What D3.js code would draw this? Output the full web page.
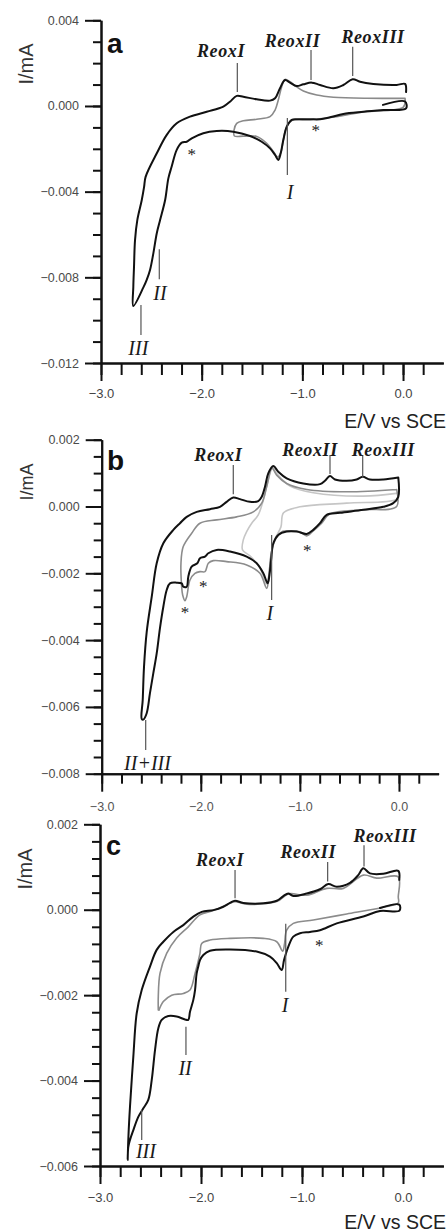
<!DOCTYPE html>
<html>
<head>
<meta charset="utf-8">
<title>CV a / b / c</title>
<script src="https://d3js.org/d3.v7.min.js"></script>
<style>
  body { margin: 0; background: #fff; }
  svg { display: block; }
</style>
</head>
<body>
<script>
// ---- data (E in V vs SCE, I in mA) ----
// panel a
var aBlackE = [-0.199,0.020,0.030,-0.196,-0.394,-0.593,-0.725,-0.824,-0.924,-1.056,
  -1.105,-1.155,-1.189,-1.215,-1.239,-1.271,-1.321,-1.404,-1.520,-1.686,
  -1.851,-1.984,-2.099,-2.149,-2.198,-2.248,-2.298,-2.331,-2.363,-2.413,
  -2.446,-2.480,-2.513,-2.546,-2.579,-2.679,-2.679,-2.672,-2.662,-2.639,
  -2.595,-2.572,-2.557,-2.446,-2.347,-2.248,-2.116,-1.950,-1.785,-1.719,
  -1.652,-1.586,-1.453,-1.321,-1.271,-1.222,-1.172,-1.123,-1.056,-0.990,
  -0.907,-0.824,-0.692,-0.593,-0.500,-0.427,-0.295,-0.063,0.020,0.030];
var aBlackI = [0.00005,0.00021,-0.00011,-0.00019,-0.00027,-0.00037,-0.00053,-0.00062,-0.00062,-0.00062,
  -0.00065,-0.00097,-0.00159,-0.00221,-0.00252,-0.00229,-0.00198,-0.00167,-0.00140,-0.00120,
  -0.00117,-0.00127,-0.00151,-0.00167,-0.00171,-0.00205,-0.00283,-0.00338,-0.00439,-0.00532,
  -0.00594,-0.00688,-0.00766,-0.00812,-0.00847,-0.00934,-0.00844,-0.00750,-0.00626,-0.00532,
  -0.00439,-0.00378,-0.00331,-0.00221,-0.00135,-0.00081,-0.00050,-0.00027,-0.00003,0.00020,
  0.00047,0.00043,0.00031,0.00025,0.00036,0.00083,0.00121,0.00109,0.00093,0.00101,
  0.00109,0.00098,0.00083,0.00098,0.00125,0.00113,0.00103,0.00098,0.00103,0.00065];
var aGrayE = [0.020,-0.360,-0.692,-0.857,-0.990,-1.056,-1.123,-1.172,-1.205,-1.239,
  -1.271,-1.321,-1.453,-1.586,-1.652,-1.678,-1.675,-1.586,-1.453,-1.354,
  -1.288,-1.244,-1.215,-1.189,-1.155,-1.105,-0.924,-0.725,-0.394,0.003,0.020];
var aGrayI = [0.00036,0.00036,0.00041,0.00051,0.00070,0.00089,0.00113,0.00124,0.00090,0.00028,
  -0.00019,-0.00050,-0.00062,-0.00069,-0.00081,-0.00112,-0.00140,-0.00141,-0.00142,-0.00174,
  -0.00213,-0.00238,-0.00219,-0.00159,-0.00097,-0.00068,-0.00064,-0.00054,-0.00028,-0.00005,0.00036];

// panel b
var bBlackE = [-0.007,-0.007,-0.058,-0.158,-0.360,-0.595,-0.730,-0.797,-0.865,-0.931,
  -1.032,-1.133,-1.218,-1.268,-1.290,-1.307,-1.325,-1.369,-1.436,-1.537,
  -1.705,-1.840,-1.924,-1.958,-2.008,-2.035,-2.092,-2.126,-2.142,-2.177,
  -2.193,-2.243,-2.311,-2.344,-2.378,-2.412,-2.445,-2.479,-2.513,-2.546,
  -2.580,-2.596,-2.586,-2.573,-2.546,-2.495,-2.445,-2.378,-2.277,-2.210,
  -2.142,-2.041,-1.907,-1.806,-1.739,-1.672,-1.604,-1.504,-1.420,-1.385,
  -1.352,-1.319,-1.268,-1.218,-1.133,-0.966,-0.797,-0.747,-0.696,-0.646,
  -0.528,-0.427,-0.366,-0.293,-0.158,-0.007];
var bBlackI = [0.00087,0.00029,0.00010,-0.00001,-0.00010,-0.00019,-0.00025,-0.00050,-0.00070,-0.00082,
  -0.00075,-0.00075,-0.00085,-0.00110,-0.00160,-0.00205,-0.00230,-0.00200,-0.00170,-0.00150,
  -0.00135,-0.00130,-0.00140,-0.00150,-0.00155,-0.00170,-0.00180,-0.00210,-0.00240,-0.00240,
  -0.00230,-0.00228,-0.00230,-0.00250,-0.00300,-0.00364,-0.00440,-0.00499,-0.00559,-0.00619,
  -0.00638,-0.00636,-0.00579,-0.00480,-0.00376,-0.00270,-0.00170,-0.00110,-0.00070,-0.00050,
  -0.00031,-0.00016,-0.00008,-0.00001,0.00014,0.00027,0.00022,0.00014,0.00016,0.00029,
  0.00059,0.00099,0.00121,0.00104,0.00084,0.00069,0.00067,0.00077,0.00091,0.00081,
  0.00077,0.00081,0.00089,0.00081,0.00081,0.00087];
var bGrayE = [-0.023,-0.528,-0.931,-1.133,-1.234,-1.282,-1.335,-1.385,-1.470,-1.638,
  -1.840,-2.008,-2.092,-2.177,-2.200,-2.193,-2.183,-2.159,-2.142,-2.109,
  -2.059,-2.008,-1.958,-1.924,-1.874,-1.739,-1.537,-1.403,-1.335,-1.312,
  -1.297,-1.271,-1.231,-1.184,-1.100,-0.999,-0.931,-0.865,-0.780,-0.696,
  -0.360,-0.023,-0.023];
var bGrayI = [0.00051,0.00044,0.00051,0.00069,0.00094,0.00115,0.00059,0.00010,-0.00016,-0.00031,
  -0.00040,-0.00050,-0.00080,-0.00120,-0.00170,-0.00240,-0.00265,-0.00282,-0.00270,-0.00220,
  -0.00200,-0.00195,-0.00195,-0.00170,-0.00162,-0.00165,-0.00175,-0.00200,-0.00245,-0.00205,
  -0.00160,-0.00115,-0.00091,-0.00076,-0.00073,-0.00076,-0.00088,-0.00073,-0.00050,-0.00022,
  -0.00010,0.00000,0.00051];
var bLightE = [-0.007,-0.360,-0.865,-1.100,-1.234,-1.274,-1.319,-1.369,-1.420,-1.486,
  -1.537,-1.571,-1.579,-1.504,-1.403,-1.337,-1.312,-1.292,-1.241,-1.191,
  -1.165,-0.999,-0.528,-0.023,-0.007];
var bLightI = [0.00040,0.00031,0.00041,0.00061,0.00099,0.00117,0.00079,0.00019,-0.00025,-0.00050,
  -0.00075,-0.00100,-0.00130,-0.00148,-0.00184,-0.00232,-0.00205,-0.00145,-0.00091,-0.00061,
  -0.00019,-0.00001,0.00010,0.00022,0.00040];

// panel c
var cBlackE = [-0.228,-0.037,-0.035,-0.228,-0.393,-0.656,-0.822,-0.921,-1.020,-1.086,
  -1.136,-1.178,-1.201,-1.250,-1.317,-1.449,-1.713,-1.911,-1.977,-2.010,
  -2.027,-2.043,-2.059,-2.076,-2.109,-2.126,-2.158,-2.241,-2.324,-2.389,
  -2.423,-2.455,-2.488,-2.522,-2.571,-2.621,-2.670,-2.703,-2.720,-2.726,
  -2.718,-2.703,-2.670,-2.637,-2.587,-2.505,-2.439,-2.373,-2.274,-2.175,
  -2.076,-1.993,-1.878,-1.779,-1.713,-1.663,-1.581,-1.383,-1.250,-1.185,
  -1.136,-1.086,-0.953,-0.822,-0.740,-0.656,-0.525,-0.443,-0.393,-0.327,
  -0.195,-0.047,-0.037];
var cBlackI = [0.00004,0.00012,-0.00002,-0.00003,-0.00016,-0.00032,-0.00048,-0.00052,-0.00055,-0.00063,
  -0.00087,-0.00118,-0.00141,-0.00125,-0.00110,-0.00098,-0.00093,-0.00096,-0.00106,-0.00118,
  -0.00133,-0.00149,-0.00188,-0.00211,-0.00239,-0.00258,-0.00257,-0.00250,-0.00249,-0.00258,
  -0.00278,-0.00328,-0.00399,-0.00445,-0.00465,-0.00485,-0.00516,-0.00539,-0.00556,-0.00586,
  -0.00528,-0.00461,-0.00344,-0.00243,-0.00188,-0.00133,-0.00094,-0.00075,-0.00052,-0.00036,
  -0.00016,-0.00005,-0.00001,0.00007,0.00016,0.00021,0.00016,0.00015,0.00021,0.00032,
  0.00038,0.00032,0.00038,0.00048,0.00060,0.00054,0.00063,0.00081,0.00097,0.00085,
  0.00084,0.00091,0.00070];
var cGrayE = [-2.423,-2.423,-2.406,-2.340,-2.241,-2.126,-2.010,-1.878,-1.713,-1.663,
  -1.547,-1.250,-1.136,-0.953,-0.755,-0.591,-0.393,-0.260,-0.047,-0.047,
  -0.047,-0.195,-0.557,-0.888,-1.086,-1.152,-1.173,-1.191,-1.250,-1.383,
  -1.713,-1.911,-1.993,-2.010,-2.059,-2.109,-2.175,-2.290,-2.373,-2.416];
var cGrayI = [-0.00235,-0.00204,-0.00149,-0.00102,-0.00066,-0.00040,-0.00012,-0.00002,0.00015,0.00019,
  0.00013,0.00019,0.00037,0.00034,0.00050,0.00050,0.00081,0.00074,0.00077,0.00030,
  0.00016,0.00006,-0.00010,-0.00024,-0.00032,-0.00048,-0.00080,-0.00097,-0.00075,-0.00067,
  -0.00067,-0.00071,-0.00079,-0.00102,-0.00149,-0.00188,-0.00196,-0.00200,-0.00215,-0.00235];

// tick labels
var xTicks = [-3, -2, -1, 0];
var aYTicks = [0.004, 0.000, -0.004, -0.008, -0.012];
var bYTicks = [0.002, 0.000, -0.002, -0.004, -0.006, -0.008];
var cYTicks = [0.002, 0.000, -0.002, -0.004, -0.006];

// peak labels: [text, E, I, kind]  (kind r = Reox, n = numeral, s = star)
var aLabels = [['ReoxI',-1.808,0.00229,'r'],['ReoxII',-1.098,0.00277,'r'],['ReoxIII',-0.298,0.00294,'r'],
  ['I',-1.122,-0.00434,'n'],['II',-2.414,-0.00906,'n'],['III',-2.629,-0.01163,'n'],
  ['*',-0.867,-0.00141,'s'],['*',-2.099,-0.00251,'s']];
var bLabels = [['ReoxI',-1.823,0.00136,'r'],['ReoxII',-0.898,0.00151,'r'],['ReoxIII',-0.158,0.00151,'r'],
  ['I',-1.302,-0.00340,'n'],['II+III',-2.538,-0.00789,'n'],
  ['*',-0.925,-0.00148,'s'],['*',-1.975,-0.00256,'s'],['*',-2.159,-0.00334,'s']];
var cLabels = [['ReoxI',-1.812,0.00102,'r'],['ReoxII',-0.938,0.00122,'r'],['ReoxIII',-0.178,0.00158,'r'],
  ['I',-1.168,-0.00239,'n'],['II',-2.158,-0.00387,'n'],['III',-2.545,-0.00581,'n'],
  ['*',-0.829,-0.00096,'s']];
// leader lines: [E, I from, I to]
var aLeaders = [[-1.646,0.00201,0.00065],[-0.914,0.00261,0.00121],[-0.500,0.00277,0.00140],
  [-1.149,-0.00056,-0.00322],[-2.421,-0.00669,-0.00809],[-2.603,-0.00929,-0.01069]];
var bLeaders = [[-1.672,0.00124,0.00037],[-0.696,0.00154,0.00097],[-0.366,0.00154,0.00085],
  [-1.285,-0.00085,-0.00280],[-2.556,-0.00639,-0.00729]];
var cLeaders = [[-1.663,0.00093,0.00027],[-0.746,0.00112,0.00066],[-0.386,0.00151,0.00101],
  [-1.161,-0.00033,-0.00192],[-2.149,-0.00274,-0.00340],[-2.587,-0.00469,-0.00539]];

var sans = "'Liberation Sans', Arial, sans-serif";
var serif = "'Liberation Serif', 'Times New Roman', serif";

var svg = d3.select('body').append('svg')
  .attr('width', 448)
  .attr('height', 1232);
svg.append('rect').attr('width', 448).attr('height', 1232).attr('fill', '#fff');

function styleAxis(sel, size, color) {
  sel.attr('font-family', sans).attr('font-size', size);
  sel.selectAll('path.domain').attr('stroke', '#111').attr('stroke-width', 2);
  sel.selectAll('line').attr('stroke', '#111').attr('stroke-width', 2);
  sel.selectAll('text').attr('fill', color);
}

function drawPanel(p) {
  var x = d3.scaleLinear().domain([-3, 0.4]).range(p.xr);
  var y = d3.scaleLinear().domain(p.yd).range(p.yr);
  var g = svg.append('g');
  var x0 = x(-3), y0 = y(p.yd[0]);

  // y axis: minor then major ticks
  g.append('g').attr('transform', 'translate(' + x0 + ',0)')
    .call(d3.axisLeft(y).tickValues(p.yMinor).tickSize(8).tickSizeOuter(0).tickFormat(''))
    .call(styleAxis, 13, '#444');
  g.append('g').attr('transform', 'translate(' + x0 + ',0)')
    .call(d3.axisLeft(y).tickValues(p.yTicks).tickSize(16).tickSizeOuter(0)
      .tickPadding(6).tickFormat(d3.format('.3f')))
    .call(styleAxis, 12.5, '#4a4a4a');

  // x axis
  var xMinor = d3.range(-15, 2).map(function(v) { return v * 0.2; });
  g.append('g').attr('transform', 'translate(0,' + y0 + ')')
    .call(d3.axisBottom(x).tickValues(xMinor).tickSize(p.xMinorLen).tickSizeOuter(0).tickFormat(''))
    .call(styleAxis, 13, '#444');
  g.append('g').attr('transform', 'translate(0,' + y0 + ')')
    .call(d3.axisBottom(x).tickValues(xTicks).tickSize(18).tickSizeOuter(0)
      .tickPadding(p.xPad).tickFormat(d3.format('.1f')))
    .call(styleAxis, p.xFont, p.xColor);

  // curves, lightly smoothed like the scanned traces
  var line = d3.line()
    .curve(d3.curveCatmullRom.alpha(0.5))
    .x(function(d) { return x(d[0]); })
    .y(function(d) { return y(d[1]); });
  p.curves.forEach(function(c) {
    g.append('path')
      .datum(d3.zip(c.E, c.I))
      .attr('d', line)
      .attr('fill', 'none')
      .attr('stroke', c.color)
      .attr('stroke-width', c.w)
      .attr('stroke-linejoin', 'round')
      .attr('stroke-linecap', 'round');
  });

  // leader lines
  g.selectAll('line.lead').data(p.leaders).enter().append('line')
    .attr('x1', function(d) { return x(d[0]); })
    .attr('x2', function(d) { return x(d[0]); })
    .attr('y1', function(d) { return y(d[1]); })
    .attr('y2', function(d) { return y(d[2]); })
    .attr('stroke', '#555')
    .attr('stroke-width', 1.2);

  // peak labels
  g.selectAll('text.peak').data(p.labels).enter().append('text')
    .attr('x', function(d) { return x(d[1]); })
    .attr('y', function(d) { return y(d[2]); })
    .attr('text-anchor', 'middle')
    .attr('font-family', serif)
    .attr('font-style', function(d) { return d[3] == 's' ? 'normal' : 'italic'; })
    .attr('font-weight', function(d) { return d[3] == 'r' ? 'bold' : 'normal'; })
    .attr('font-size', function(d) { return d[3] == 'r' ? 18 : (d[3] == 'n' ? 20 : 17); })
    .attr('letter-spacing', function(d) { return d[3] == 'r' ? 0.6 : 0; })
    .attr('fill', '#1a1a1a')
    .text(function(d) { return d[0]; });

  // panel letter and axis titles
  g.append('text')
    .attr('x', p.letter[1]).attr('y', p.letter[2])
    .attr('font-family', sans).attr('font-weight', 'bold').attr('font-size', p.letter[3])
    .attr('fill', '#111')
    .text(p.letter[0]);
  g.append('text')
    .attr('transform', 'translate(' + p.ylab[0] + ',' + p.ylab[1] + ') rotate(-90)')
    .attr('text-anchor', 'middle')
    .attr('font-family', sans).attr('font-size', p.ylab[2])
    .attr('fill', '#333')
    .text('I/mA');
  if (p.xlabY) {
    g.append('text')
      .attr('x', 446).attr('y', p.xlabY)
      .attr('text-anchor', 'end')
      .attr('font-family', sans).attr('font-size', 19.5)
      .attr('fill', '#222')
      .text('E/V vs SCE');
  }
}

drawPanel({
  xr: [101, 443.3], yd: [-0.012, 0.004], yr: [363, 20.3],
  yTicks: aYTicks, yMinor: d3.range(-12, 5).map(function(v) { return v * 0.001; }),
  xMinorLen: 12, xPad: 8, xFont: 13, xColor: '#444',
  curves: [{E: aGrayE, I: aGrayI, color: '#8a8a8a', w: 1.6},
           {E: aBlackE, I: aBlackI, color: '#111', w: 2}],
  labels: aLabels, leaders: aLeaders,
  letter: ['a', 107, 53, 28], ylab: [33, 64, 20], xlabY: 428
});

drawPanel({
  xr: [101.7, 438.6], yd: [-0.008, 0.002], yr: [773.7, 439.7],
  yTicks: bYTicks, yMinor: d3.range(-16, 5).map(function(v) { return v * 0.0005; }),
  xMinorLen: 10, xPad: 10, xFont: 12.5, xColor: '#555',
  curves: [{E: bLightE, I: bLightI, color: '#c6c6c6', w: 1.6},
           {E: bGrayE, I: bGrayI, color: '#8c8c8c', w: 1.6},
           {E: bBlackE, I: bBlackI, color: '#111', w: 2}],
  labels: bLabels, leaders: bLeaders,
  letter: ['b', 107, 470, 28], ylab: [33, 482, 18], xlabY: null
});

drawPanel({
  xr: [100, 443.4], yd: [-0.006, 0.002], yr: [1166, 824.3],
  yTicks: cYTicks, yMinor: d3.range(-15, 6).map(function(v) { return v * 0.0004; }),
  xMinorLen: 11, xPad: 9, xFont: 13, xColor: '#444',
  curves: [{E: cGrayE, I: cGrayI, color: '#8c8c8c', w: 1.6},
           {E: cBlackE, I: cBlackI, color: '#111', w: 2}],
  labels: cLabels, leaders: cLeaders,
  letter: ['c', 106, 855, 27], ylab: [32, 869, 20], xlabY: 1229
});
</script>
</body>
</html>
